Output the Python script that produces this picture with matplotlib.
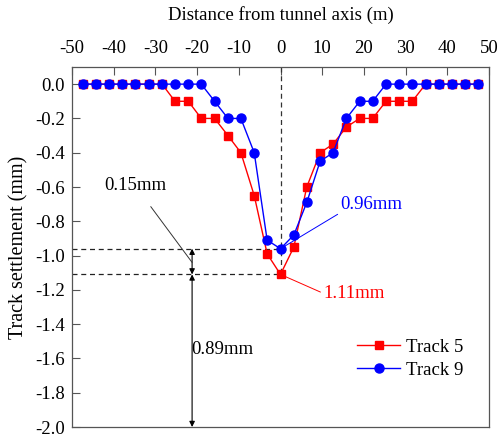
import matplotlib
matplotlib.use("Agg")
import matplotlib.pyplot as plt

plt.rcParams['font.family'] = ['Liberation Serif', 'DejaVu Serif']
plt.rcParams['mathtext.fontset'] = 'stix'

# Data
distance = [-47.4, -44.2, -41.1, -37.9, -34.8, -31.6, -28.4, -25.3, -22.1, -19.0,
            -15.8, -12.6, -9.5, -6.3, -3.2, 0.0, 3.2, 6.3, 9.5, 12.6, 15.8,
            19.0, 22.1, 25.3, 28.4, 31.6, 34.8, 37.9, 41.1, 44.2, 47.4]
track5 = [0, 0, 0, 0, 0, 0, 0, -0.1, -0.1, -0.2,
          -0.2, -0.3, -0.4, -0.65, -0.99, -1.11, -0.95, -0.6, -0.4, -0.35, -0.25,
          -0.2, -0.2, -0.1, -0.1, -0.1, 0, 0, 0, 0, 0]
track9 = [0, 0, 0, 0, 0, 0, 0, 0, 0, 0,
          -0.1, -0.2, -0.2, -0.4, -0.91, -0.96, -0.88, -0.69, -0.45, -0.4, -0.2,
          -0.1, -0.1, 0, 0, 0, 0, 0, 0, 0, 0]
series_labels = ["Track 5", "Track 9"]
max5 = -1.11
max9 = -0.96
xticks = [-50, -40, -30, -20, -10, 0, 10, 20, 30, 40, 50]
yticks = [0.0, -0.2, -0.4, -0.6, -0.8, -1.0, -1.2, -1.4, -1.6, -1.8, -2.0]

fig = plt.figure(figsize=(5.0, 4.37), dpi=100)
ax_bottom_px, ax_top_px = 427, 67
ax = fig.add_axes([72/500, 1-ax_bottom_px/437, (489-72)/500, (ax_bottom_px-ax_top_px)/437])

ax.plot(distance, track5, color='#ff0000', lw=1.0, marker='s', ms=6,
        mec='#ff0000', mfc='#ff0000', label=series_labels[0], zorder=3)
ax.plot(distance, track9, color='#0000ff', lw=1.0, marker='o', ms=6.5,
        mec='#0000ff', mfc='#0000ff', label=series_labels[1], zorder=4)

ax.set_xlim(-50, 50)
ax.set_ylim(-2.0, 0.1)

# reference lines
ax.plot([0, 0], [0.1, max5], ls=(0, (4, 3)), color='#333333', lw=0.9, zorder=2)
ax.plot([-50, 0], [max9, max9], ls=(0, (4, 3)), color='#222222', lw=0.9, zorder=2)
ax.plot([-50, 0], [max5, max5], ls=(0, (4, 3)), color='#222222', lw=0.9, zorder=2)

xa = -21.2
ap = dict(arrowstyle='<|-|>', color='black', lw=0.8, mutation_scale=8, shrinkA=0, shrinkB=0)
ax.annotate('', xy=(xa, max9), xytext=(xa, max5), arrowprops=ap)
ax.annotate('', xy=(xa, max5), xytext=(xa, -2.0), arrowprops=ap)

fs_ann = 13.5
ax.annotate('0.15mm', xy=(xa, -1.04), xytext=(-34.9, -0.59), fontsize=fs_ann,
            ha='center', va='center', color='black',
            arrowprops=dict(arrowstyle='-', color='#333333', lw=0.7,
                            shrinkA=9, shrinkB=0))
ax.annotate('0.96mm', xy=(0, max9), xytext=(21.8, -0.70), fontsize=fs_ann,
            ha='center', va='center', color='#0000ff',
            arrowprops=dict(arrowstyle='-', color='#0000ff', lw=0.7,
                            relpos=(0.0, 0.0), shrinkA=0, shrinkB=0))
ax.annotate('1.11mm', xy=(0, max5), xytext=(17.6, -1.22), fontsize=fs_ann,
            ha='center', va='center', color='#ff0000',
            arrowprops=dict(arrowstyle='-', color='#ff0000', lw=0.7,
                            relpos=(0.0, 0.5), shrinkA=0, shrinkB=0))
ax.text(-14.0, -1.545, '0.89mm', fontsize=fs_ann, ha='center', va='center', color='black')

ax.xaxis.tick_top()
ax.xaxis.set_label_position('top')
ax.set_xticks(xticks)
ax.set_xticklabels([str(t) for t in xticks])
ax.set_yticks(yticks)
ax.set_yticklabels([f"{t:.1f}" for t in yticks])
ax.tick_params(axis='x', direction='in', length=6, width=0.8, color='#555555',
               labelsize=13.5, pad=7, top=True, bottom=False)
ax.tick_params(axis='y', direction='in', length=6, width=0.8, color='#555555',
               labelsize=13.5, pad=5, left=True, right=False)
for s in ax.spines.values():
    s.set_color('#555555')
    s.set_linewidth(0.9)

ax.set_xlabel('Distance from tunnel axis (m)', fontsize=13.5, labelpad=15)
ax.set_ylabel('Track settlement (mm)', fontsize=14.5, labelpad=5)

leg = ax.legend(loc='upper left', bbox_to_anchor=((357-72)/417, 0.245), frameon=False,
                fontsize=13.5, handlelength=2.3, handletextpad=0.3,
                labelspacing=0.3, borderpad=0, borderaxespad=0)

fig.savefig('out.png', dpi=100)
